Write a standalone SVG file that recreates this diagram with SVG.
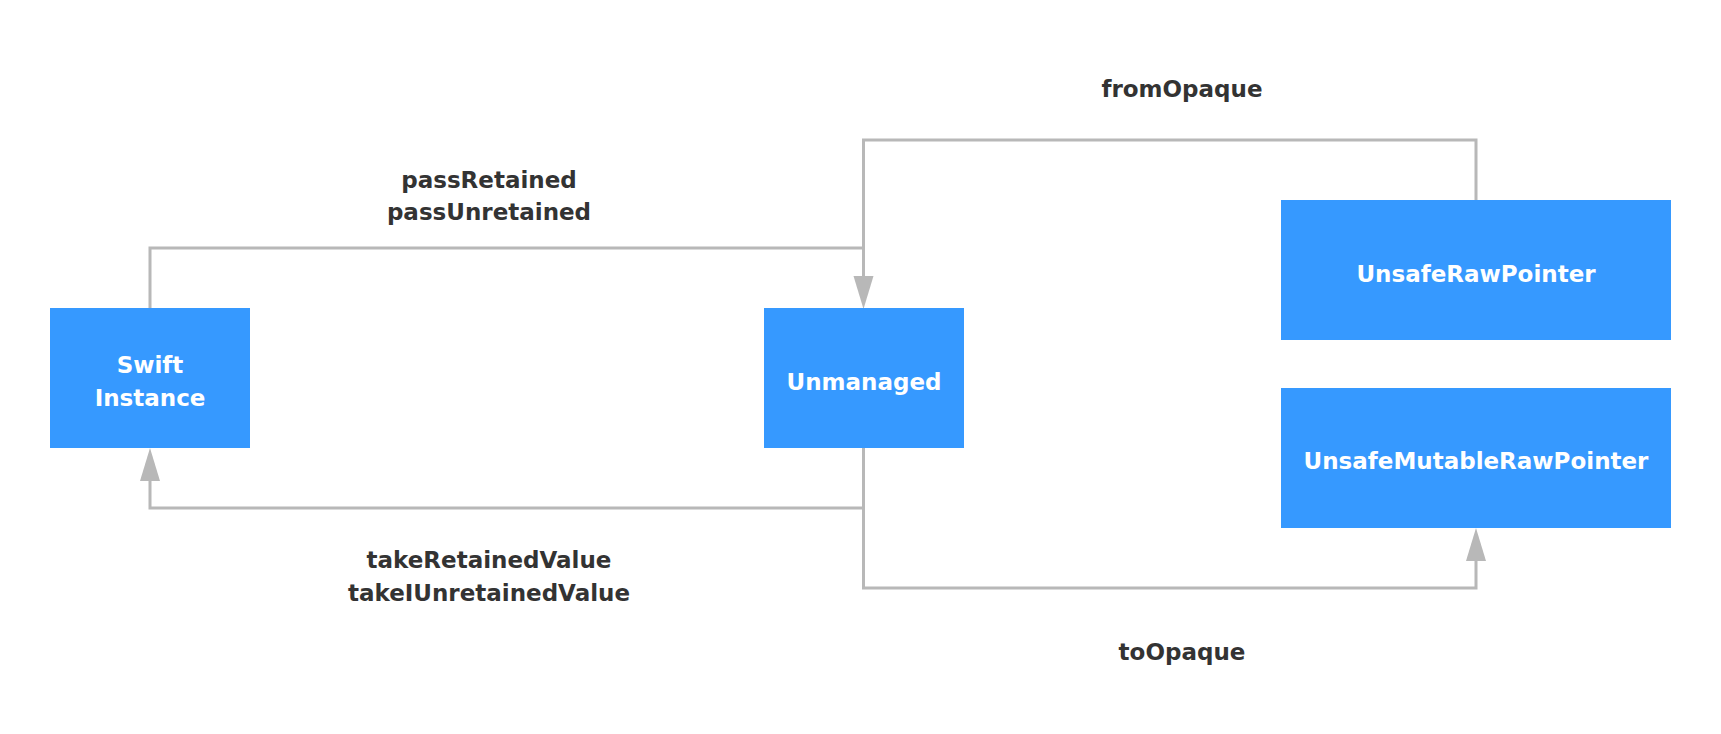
<svg xmlns="http://www.w3.org/2000/svg" width="1721" height="734" viewBox="0 0 1721 734">
  <style>
    .node rect { fill: #3699ff; }
    .node text { fill: #ffffff; font-family: "DejaVu Sans", "Liberation Sans", sans-serif; font-weight: bold; font-size: 23px; text-anchor: middle; }
    .label { fill: #333333; font-family: "DejaVu Sans", "Liberation Sans", sans-serif; font-weight: bold; font-size: 23px; text-anchor: middle; }
    .edge { fill: none; stroke: #b8b8b8; stroke-width: 3; stroke-linejoin: miter; }
  </style>
  <defs>
    <marker id="arrow" markerUnits="userSpaceOnUse" markerWidth="34" markerHeight="22" refX="0" refY="10" orient="auto" overflow="visible">
      <path d="M0,0 L33,10 L0,20 z" fill="#b8b8b8"/>
    </marker>
  </defs>
  <rect width="1721" height="734" fill="#ffffff"/>

  <g id="connectors">
    <path class="edge" d="M150,308 V248 H863.5 V276" marker-end="url(#arrow)"/>
    <path class="edge" d="M1476,200 V140 H863.5 V248"/>
    <path class="edge" d="M863.5,448 V508 H150 V481" marker-end="url(#arrow)"/>
    <path class="edge" d="M863.5,448 V588 H1476 V561" marker-end="url(#arrow)"/>
  </g>

  <g id="labels">
    <text class="label" x="489" y="188">passRetained</text>
    <text class="label" x="489" y="220">passUnretained</text>
    <text class="label" x="1182" y="97">fromOpaque</text>
    <text class="label" x="489" y="568">takeRetainedValue</text>
    <text class="label" x="489" y="601">takeIUnretainedValue</text>
    <text class="label" x="1182" y="660">toOpaque</text>
  </g>

  <g id="node-swift" class="node">
    <rect x="50" y="308" width="200" height="140"/>
    <text x="150" y="373">Swift</text>
    <text x="150" y="406">Instance</text>
  </g>
  <g id="node-unmanaged" class="node">
    <rect x="764" y="308" width="200" height="140"/>
    <text x="864" y="390">Unmanaged</text>
  </g>
  <g id="node-unsaferaw" class="node">
    <rect x="1281" y="200" width="390" height="140"/>
    <text x="1476" y="282">UnsafeRawPointer</text>
  </g>
  <g id="node-unsafemutableraw" class="node">
    <rect x="1281" y="388" width="390" height="140"/>
    <text x="1476" y="469">UnsafeMutableRawPointer</text>
  </g>
</svg>
